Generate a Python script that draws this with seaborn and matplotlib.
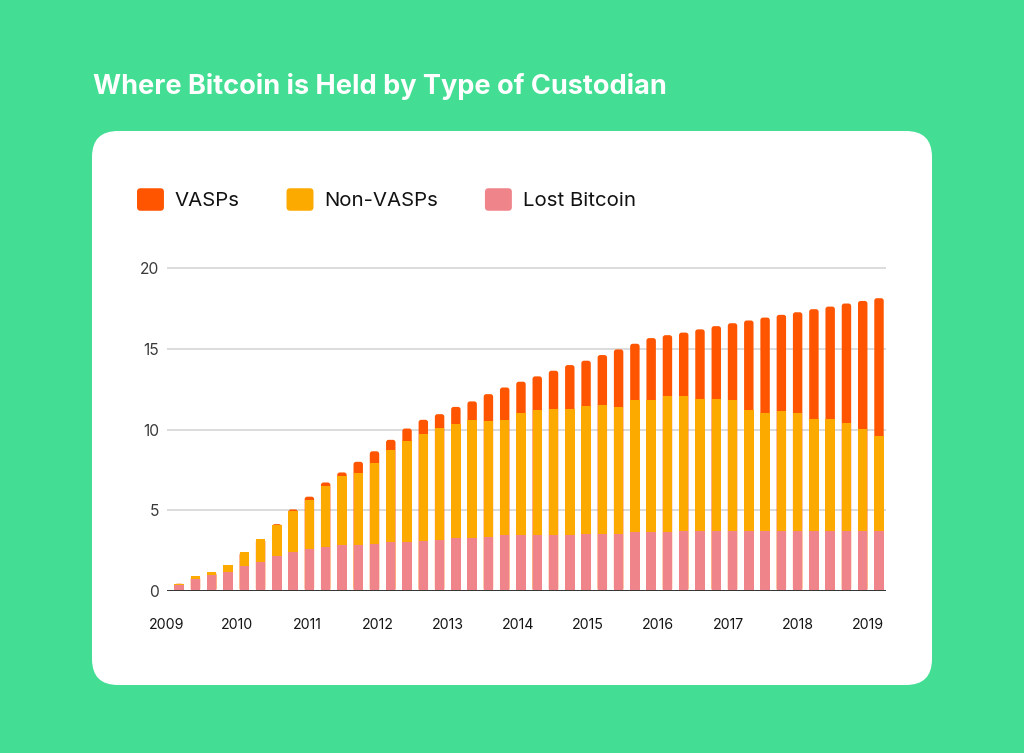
import numpy as np
import pandas as pd
import matplotlib
matplotlib.use("Agg")
import matplotlib.pyplot as plt
import seaborn as sns
from matplotlib.patches import FancyBboxPatch, Patch
from matplotlib.transforms import IdentityTransform
from matplotlib.legend_handler import HandlerPatch

# ---------------- data ----------------
periods = [f"{y} Q{q}" for y in range(2009, 2020) for q in range(1, 5)]
year_labels = ["2009", "2010", "2011", "2012", "2013", "2014",
               "2015", "2016", "2017", "2018", "2019"]

lost_bitcoin = [0.37, 0.72, 0.97, 1.18, 1.53, 1.79, 2.14, 2.41, 2.58, 2.74, 2.85,
                2.85, 2.92, 3.01, 3.02, 3.08, 3.18, 3.26, 3.26, 3.33, 3.45, 3.45,
                3.46, 3.46, 3.46, 3.56, 3.56, 3.56, 3.64, 3.64, 3.64, 3.72, 3.72,
                3.72, 3.72, 3.72, 3.72, 3.72, 3.72, 3.72, 3.72, 3.72, 3.72, 3.72]
non_vasps = [0.08, 0.19, 0.18, 0.41, 0.86, 1.41, 1.92, 2.56, 3.07, 3.78, 4.30,
             4.48, 5.03, 5.74, 6.28, 6.63, 6.90, 7.07, 7.34, 7.19, 7.15, 7.57,
             7.73, 7.84, 7.84, 7.90, 7.98, 7.82, 8.17, 8.17, 8.44, 8.36, 8.18,
             8.18, 8.10, 7.46, 7.30, 7.40, 7.30, 6.95, 6.95, 6.68, 6.33, 5.90]
vasps = [0.00, 0.00, 0.00, 0.00, 0.00, 0.00, 0.08, 0.08, 0.19, 0.20, 0.19,
         0.67, 0.70, 0.61, 0.76, 0.89, 0.87, 1.07, 1.14, 1.67, 2.00, 1.94,
         2.10, 2.34, 2.69, 2.80, 3.07, 3.58, 3.50, 3.85, 3.76, 3.92, 4.30,
         4.50, 4.76, 5.57, 5.91, 5.98, 6.24, 6.78, 6.94, 7.40, 7.91, 8.51]

series_names = ["VASPs", "Non-VASPs", "Lost Bitcoin"]
C_VASP = "#FF5500"
C_NON = "#FCAA00"
C_LOST = "#F0848B"
C_BG = "#43DE93"

# ---------------- style ----------------
sns.set_theme(style="white")
plt.rcParams["font.family"] = ["Inter", "DejaVu Sans"]

W, H = 1024, 753
fig = plt.figure(figsize=(W / 100, H / 100), dpi=100, facecolor=C_BG)

card = FancyBboxPatch((92, H - 685), 840, 554,
                      boxstyle="round,pad=0,rounding_size=26",
                      transform=IdentityTransform(), fc="white", ec="none",
                      zorder=-5)
fig.add_artist(card)

fig.text(93 / W, 1 - 86 / H, "Where Bitcoin is Held by Type of Custodian",
         color="white", fontsize=19.5, fontweight="bold", ha="left", va="center")

ytop = 20.2
ax_h_px = (591 - 268) * ytop / 20
ax = fig.add_axes([167 / W, 1 - 591 / H, 719 / W, ax_h_px / H])
ax.set_facecolor("none")
ax.set_zorder(2)

df = pd.DataFrame({"period": periods, "lost": lost_bitcoin,
                   "non": non_vasps, "vasp": vasps})
df["lvl1"] = df["lost"]
df["lvl2"] = df["lost"] + df["non"]
df["lvl3"] = df["lvl2"] + df["vasp"]

bw = 0.58
sns.barplot(data=df, x="period", y="lvl3", color=C_VASP, saturation=1,
            width=bw, linewidth=0, ax=ax, order=periods)
# round the tops of the full stacks
for p in list(ax.patches):
    x, y = p.get_x(), p.get_y()
    w, h = p.get_width(), p.get_height()
    fc = p.get_facecolor()
    z = p.get_zorder()
    p.remove()
    rp = FancyBboxPatch((x, y), w, h, boxstyle="round,pad=0,rounding_size=0.16",
                        mutation_aspect=1.0, fc=fc, ec="none", lw=0, zorder=z - 0.1)
    ax.add_patch(rp)

sns.barplot(data=df, x="period", y="lvl2", color=C_NON, saturation=1,
            width=bw, linewidth=0, ax=ax, order=periods)
sns.barplot(data=df, x="period", y="lvl1", color=C_LOST, saturation=1,
            width=bw, linewidth=0, ax=ax, order=periods)

ax.set_xlim(-0.74, 43.43)
ax.set_ylim(0, ytop)
ax.set_yticks([0, 5, 10, 15, 20])
ax.set_yticklabels(["0", "5", "10", "15", "20"])
ax.yaxis.grid(True, color="#d9d9d9", lw=1.3)
ax.xaxis.grid(False)
ax.set_axisbelow(True)
ax.set_xticks(np.linspace(-0.75, 42.35, len(year_labels)))
ax.set_xticklabels(year_labels)
ax.tick_params(axis="x", length=0, pad=19.5, labelsize=10.2, labelcolor="#151515")
ax.tick_params(axis="y", length=0, pad=5.8, labelsize=11.2, labelcolor="#3a3a3a")
for s in ax.spines.values():
    s.set_visible(False)
ax.axhline(0, color="#333333", lw=1.4, zorder=3)
ax.set_xlabel("")
ax.set_ylabel("")


class RoundHandler(HandlerPatch):
    def create_artists(self, legend, orig_handle, xdescent, ydescent,
                       width, height, fontsize, trans):
        r = min(width, height) * 0.16
        p = FancyBboxPatch((-xdescent, -ydescent), width, height,
                           boxstyle=f"round,pad=0,rounding_size={r}",
                           fc=orig_handle.get_facecolor(), ec="none",
                           transform=trans)
        return [p]


handles = [Patch(fc=C_VASP), Patch(fc=C_NON), Patch(fc=C_LOST)]
fig.legend(handles, series_names, loc="center left",
           bbox_to_anchor=(137 / W, 1 - 199.5 / H), ncol=3, frameon=False,
           fontsize=14.7, handlelength=1.32, handleheight=1.32,
           handletextpad=0.54, columnspacing=2.28, borderpad=0,
           borderaxespad=0, handler_map={Patch: RoundHandler()},
           labelcolor="#111111")

fig.savefig("out.png", dpi=100, facecolor=C_BG)
